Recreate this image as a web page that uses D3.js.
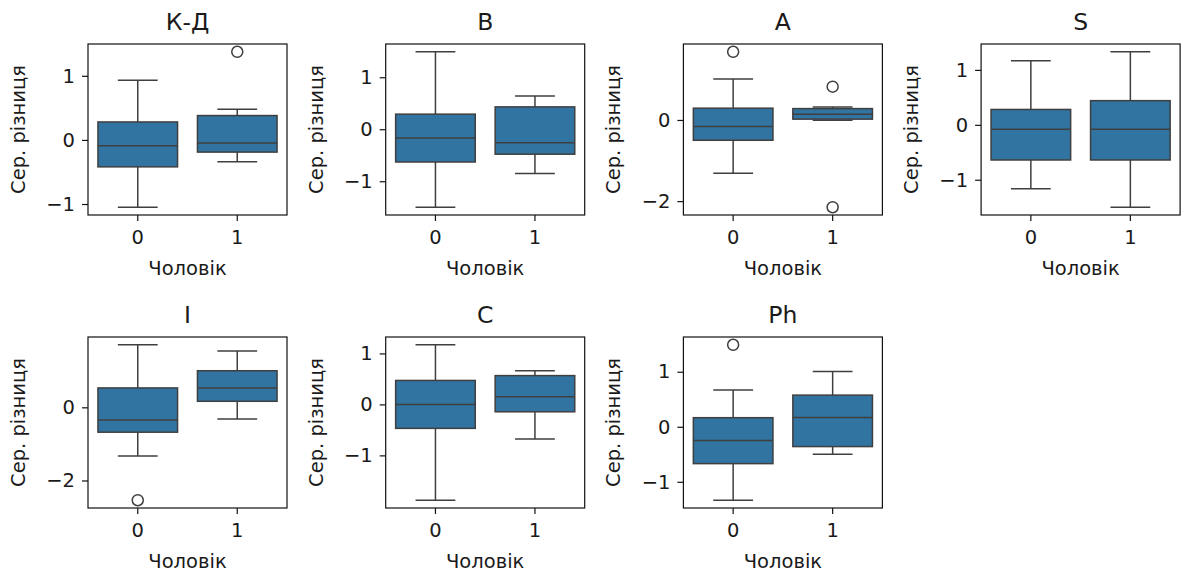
<!DOCTYPE html>
<html>
<head>
<meta charset="utf-8">
<script src="https://cdn.jsdelivr.net/npm/d3@7"></script>
<style>
  html, body { margin: 0; padding: 0; background: #fff; }
  svg { display: block; font-family: "DejaVu Sans", sans-serif; }
</style>
</head>
<body>
<svg id="chart" width="1184" height="572"></svg>
<script>
// ---- data ----
const panels = ["К-Д", "B", "A", "S", "I", "C", "Ph"];
const categories = ["0", "1"];
const whiskerLow  = [[-1.05, -0.34], [-1.50, -0.85], [-1.31, -0.01], [-1.165, -1.50], [-1.33, -0.32], [-1.88, -0.68], [-1.335, -0.50]];
const q1          = [[-0.42, -0.19], [-0.63, -0.48], [-0.50, 0.02],  [-0.64, -0.64],  [-0.68, 0.165], [-0.47, -0.145], [-0.67, -0.36]];
const median      = [[-0.09, -0.05], [-0.17, -0.26], [-0.16, 0.14],  [-0.08, -0.08],  [-0.35, 0.53],  [0.0, 0.15],     [-0.25, 0.17]];
const q3          = [[0.28, 0.38],   [0.29, 0.43],   [0.29, 0.28],   [0.28, 0.44],    [0.53, 1.0],    [0.47, 0.565],   [0.165, 0.575]];
const whiskerHigh = [[0.93, 0.48],   [1.49, 0.64],   [1.01, 0.32],   [1.165, 1.33],   [1.71, 1.54],   [1.17, 0.66],    [0.67, 1.005]];
const outliers    = [[[], [1.375]], [[], []], [[1.68], [0.82, -2.15]], [[], []], [[-2.54], []], [[], []], [[1.49], []]];
const yTicks      = [[-1, 0, 1], [-1, 0, 1], [-2, 0], [-1, 0, 1], [-2, 0], [-1, 0, 1], [-1, 0, 1]];
const xLabel = "Чоловік";
const yLabel = "Сер. різниця";

// ---- layout ----
const svg = d3.select("#chart");
const plotW = 199, plotH = 171;
const left0 = 88, colStep = 297.7;
const top0 = 44, rowStep = 293;
const boxColor = "#3274a1", lineColor = "#3f3f3f", textColor = "#1a1a1a";
const tickFont = "19.5px", labelFont = "19.5px", titleFont = "23.5px";
const fmt = v => v < 0 ? "\u2212" + Math.abs(v) : String(v);

panels.forEach((title, p) => {
  const col = p % 4, row = Math.floor(p / 4);
  const g = svg.append("g").attr("transform", `translate(${left0 + col * colStep},${top0 + row * rowStep})`);

  const allVals = [...whiskerLow[p], ...whiskerHigh[p], ...outliers[p].flat()];
  const lo = d3.min(allVals), hi = d3.max(allVals), pad = (hi - lo) * 0.05;
  const y = d3.scaleLinear().domain([lo - pad, hi + pad]).range([plotH, 0]);
  const x = d3.scaleBand().domain(categories).range([0, plotW]);
  const bw = x.bandwidth() * 0.8;

  categories.forEach((c, i) => {
    const cx = x(c) + x.bandwidth() / 2;
    const gb = g.append("g");
    gb.append("line").attr("x1", cx).attr("x2", cx).attr("y1", y(q3[p][i])).attr("y2", y(whiskerHigh[p][i]));
    gb.append("line").attr("x1", cx).attr("x2", cx).attr("y1", y(q1[p][i])).attr("y2", y(whiskerLow[p][i]));
    gb.append("line").attr("x1", cx - bw / 4).attr("x2", cx + bw / 4).attr("y1", y(whiskerHigh[p][i])).attr("y2", y(whiskerHigh[p][i]));
    gb.append("line").attr("x1", cx - bw / 4).attr("x2", cx + bw / 4).attr("y1", y(whiskerLow[p][i])).attr("y2", y(whiskerLow[p][i]));
    gb.selectAll("line").attr("stroke", lineColor).attr("stroke-width", 1.5);
    gb.append("rect")
      .attr("x", cx - bw / 2).attr("width", bw)
      .attr("y", y(q3[p][i])).attr("height", y(q1[p][i]) - y(q3[p][i]))
      .attr("fill", boxColor).attr("stroke", lineColor).attr("stroke-width", 1.5);
    gb.append("line")
      .attr("x1", cx - bw / 2).attr("x2", cx + bw / 2)
      .attr("y1", y(median[p][i])).attr("y2", y(median[p][i]))
      .attr("stroke", lineColor).attr("stroke-width", 1.5);
    gb.selectAll("circle").data(outliers[p][i]).join("circle")
      .attr("cx", cx).attr("cy", d => y(d)).attr("r", 5.5)
      .attr("fill", "none").attr("stroke", lineColor).attr("stroke-width", 1.5);
  });

  g.append("rect").attr("width", plotW).attr("height", plotH)
    .attr("fill", "none").attr("stroke", "#111").attr("stroke-width", 1.2);

  const ya = g.append("g").call(d3.axisLeft(y).tickValues(yTicks[p]).tickFormat(fmt).tickSize(6).tickPadding(7));
  const xa = g.append("g").attr("transform", `translate(0,${plotH})`)
    .call(d3.axisBottom(x).tickSize(6).tickPadding(9));
  [ya, xa].forEach(a => {
    a.select(".domain").remove();
    a.selectAll(".tick line").attr("stroke", "#111").attr("stroke-width", 1.2);
    a.selectAll(".tick text").attr("fill", textColor).style("font-size", tickFont).style("font-family", "DejaVu Sans");
  });

  g.append("text").attr("x", plotW / 2).attr("y", -14).attr("text-anchor", "middle")
    .attr("fill", textColor).style("font-size", titleFont).text(title);
  g.append("text").attr("x", plotW / 2).attr("y", plotH + 60).attr("text-anchor", "middle")
    .attr("fill", textColor).style("font-size", labelFont).text(xLabel);
  g.append("text").attr("transform", `translate(-63,${plotH / 2}) rotate(-90)`).attr("text-anchor", "middle")
    .attr("fill", textColor).style("font-size", labelFont).text(yLabel);
});
</script>
</body>
</html>
